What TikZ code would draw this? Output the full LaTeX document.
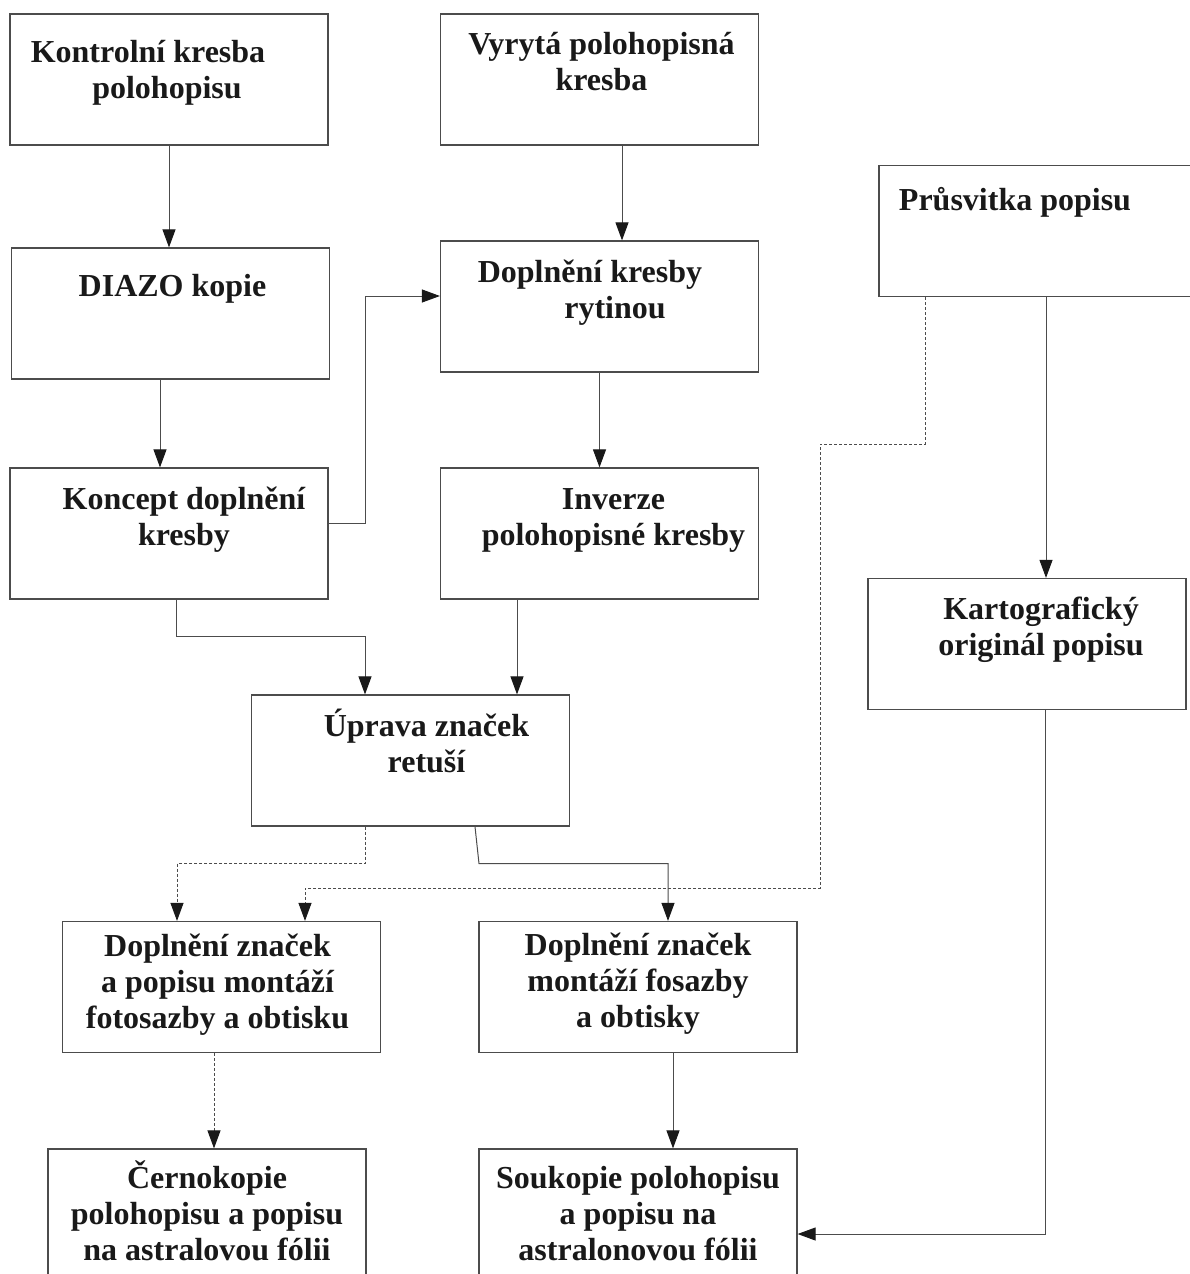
\documentclass[tikz,border=0pt]{standalone}
\usepackage{fontspec}
\setmainfont{Liberation Serif}
\usetikzlibrary{positioning,arrows.meta}
\newcommand{\vyska}{\rule{0pt}{15pt}}
\tikzset{
    krok/.style={draw=black!70,line width=0.6pt,minimum width=159pt,minimum height=65.5pt,inner sep=0pt},
    popis/.style={font=\fontsize{16}{18}\selectfont\bfseries,text=black!90,align=center,inner sep=0pt},
    sipka/.style={draw=black!70,line width=0.5pt,-{Triangle[length=9pt,width=6.5pt,color=black!90]}},
    tecky/.style={sipka,dash pattern=on 1.5pt off 1pt}
}

\begin{document}
\begin{tikzpicture}[x=0.5pt,y=-0.5pt]
    \useasboundingbox (0,0) rectangle (1189,1274);
    % draw the boxes
    \node[krok] (kontrola) at (169,79.5) {};
    \node[krok] (vyryta) at (599.5,79.5) {};
    \node[krok] (prusvitka) at (1038,231) {};
    \node[krok] (diazo) at (170.5,313.5) {};
    \node[krok] (rytina) at (599.5,306.5) {};
    \node[krok] (koncept) at (169,533.5) {};
    \node[krok] (inverze) at (599.5,533.5) {};
    \node[krok] (kartograf) at (1027,644) {};
    \node[krok] (uprava) at (410.5,760.5) {};
    \node[krok] (znacky) at (221.5,987) {};
    \node[krok] (montaz) at (638,987) {};
    \node[krok] (cernokopie) at (207,1214.5) {};
    \node[krok] (soukopie) at (638,1214.5) {};
    % add labels (\vyska keeps the first line at the same height)
    \node[popis,below=9.5pt of kontrola.north,xshift=-10.5pt] (t-kontrola) {\vyska Kontrolní kresba\\\hspace*{19pt}polohopisu};
    \node[popis,below=5.5pt of vyryta.north,xshift=1pt] (t-vyryta) {\vyska Vyrytá polohopisná\\kresba};
    \node[popis,below=7.5pt of prusvitka.north,xshift=-11.5pt] (t-prusvitka) {\vyska Průsvitka popisu};
    \node[popis,below=9.5pt of diazo.north,xshift=1pt] (t-diazo) {\vyska DIAZO kopie};
    \node[popis,below=6pt of rytina.north,xshift=-4.75pt] (t-rytina) {\vyska Doplnění kresby\\\hspace*{25pt}rytinou};
    \node[popis,below=6pt of koncept.north,xshift=7.5pt] (t-koncept) {\vyska Koncept doplnění\\kresby};
    \node[popis,below=6pt of inverze.north,xshift=7pt] (t-inverze) {\vyska Inverze\\polohopisné kresby};
    \node[popis,below=5.5pt of kartograf.north,xshift=7pt] (t-kartograf) {\vyska Kartografický\\originál popisu};
    \node[popis,below=6pt of uprava.north,xshift=8pt] (t-uprava) {\vyska Úprava značek\\retuší};
    \node[popis,below=2.5pt of znacky.north,xshift=-2pt] (t-znacky) {\vyska Doplnění značek\\a popisu montáží\\fotosazby a obtisku};
    \node[popis,below=2pt of montaz.north] (t-montaz) {\vyska Doplnění značek\\montáží fosazby\\a obtisky};
    \node[popis,below=5pt of cernokopie.north] (t-cernokopie) {\vyska Černokopie\\polohopisu a popisu\\na astralovou fólii};
    \node[popis,below=5pt of soukopie.north] (t-soukopie) {\vyska Soukopie polohopisu\\a popisu na\\astralonovou fólii};
    % straight arrows down
    \foreach \z/\k/\dx in {kontrola/diazo/0pt,vyryta/rytina/11.25pt,diazo/koncept/-5.25pt,
        rytina/inverze/0pt,inverze/uprava/-41.25pt,prusvitka/kartograf/4pt,montaz/soukopie/17.5pt}
        \draw[sipka] ([xshift=\dx]\z.south) -- ([xshift=\dx]\z.south |- \k.north);
    % arrows with bends
    \draw[sipka] ([yshift=5.25pt]koncept.east) -- ++(37,0) |- ([yshift=5.25pt]rytina.west);
    \draw[sipka] ([xshift=3.5pt]koncept.south) -- ++(0,37) -| ([xshift=-22.75pt]uprava.north);
    \draw[sipka] ([xshift=32.25pt]uprava.south) -- ++(4,37) -| ([xshift=15pt]montaz.north);
    \draw[sipka] ([xshift=9pt]kartograf.south) |- ([yshift=-9.75pt]soukopie.east);
    % dotted arrows
    \draw[tecky] ([xshift=-22.75pt]uprava.south) -- ++(0,37) -| ([xshift=-22.25pt]znacky.north);
    \draw[tecky] ([xshift=-56.5pt]prusvitka.south) -- ++(0,147) -| ++(-105,444) -| ([xshift=41.75pt]znacky.north);
    \draw[tecky] ([xshift=-3.75pt]znacky.south) -- ([xshift=-3.75pt]znacky.south |- cernokopie.north);
\end{tikzpicture}
\end{document}
